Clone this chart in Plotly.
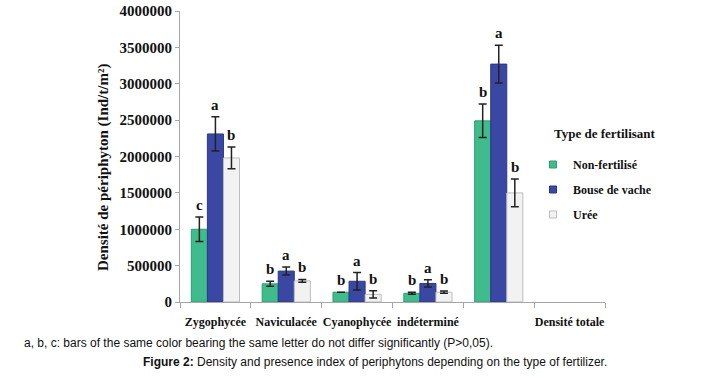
import plotly.graph_objects as go

# ---- data ----
tick_labels = ["Zygophycée", "Naviculacée", "Cyanophycée", "indéterminé", "", "Densité totale"]
group_pos = [0, 1, 2, 3, 4]  # the 5th slot holds the total-density bars
series_names = ["Non-fertilisé", "Bouse de vache", "Urée"]

non_fert = [1000000, 250000, 135000, 120000, 2490000]
non_fert_err = [170000, 35000, 0, 15000, 230000]
bouse = [2310000, 425000, 285000, 255000, 3270000]
bouse_err = [235000, 55000, 120000, 50000, 260000]
uree = [1980000, 290000, 105000, 135000, 1500000]
uree_err = [150000, 20000, 50000, 15000, 190000]

letters_non = ["c", "b", "b", "b", "b"]
letters_bouse = ["a", "a", "a", "a", "a"]
letters_uree = ["b", "b", "b", "b", "b"]

y_ticks = [0, 500000, 1000000, 1500000, 2000000, 2500000, 3000000, 3500000, 4000000]

# ---- styles ----
SERIF = "Liberation Serif"
SANS = "Liberation Sans"
colors = ["#3FBB8C", "#3A47A3", "#F2F2F2"]
edge = ["#2A9F73", "#2B3888", "#BDBDBD"]

L, R, T, B = 180, 114, 11, 76
W, H = 719, 378
pw, ph = W - L - R, H - T - B


def px_x(x):
    return (x - L) / pw


def px_y(y):
    return (H - B - y) / ph


fig = go.Figure()
vals = [non_fert, bouse, uree]
errs = [non_fert_err, bouse_err, uree_err]
lets = [letters_non, letters_bouse, letters_uree]
for i, name in enumerate(series_names):
    fig.add_trace(go.Bar(
        x=group_pos, y=vals[i], name=name, showlegend=False,
        marker=dict(color=colors[i], line=dict(color=edge[i], width=1)),
        error_y=dict(type="data", array=errs[i], visible=True,
                     color="#222222", thickness=1.5, width=4),
        legendgroup=name,
    ))
# legend entries (small square swatches like the original)
for i, name in enumerate(series_names):
    fig.add_trace(go.Scatter(
        x=[None], y=[None], mode="markers", name=name, legendgroup=name,
        marker=dict(symbol="square", size=7, color=colors[i],
                    line=dict(color=edge[i], width=1)),
    ))

bargap = 0.32
bw = (1 - bargap) / 3
annotations = []
for i in range(3):
    off = (i - 1) * bw
    for j, g in enumerate(group_pos):
        annotations.append(dict(
            x=g + off, y=vals[i][j] + errs[i][j], xref="x", yref="y",
            text=lets[i][j], showarrow=False, yanchor="bottom", yshift=2,
            font=dict(family=SERIF, size=15, color="#111111", weight="bold"),
        ))

annotations.append(dict(
    x=px_x(103), y=px_y(168), xref="paper", yref="paper", textangle=-90,
    text="Densité de périphyton (Ind/t/m²)", showarrow=False,
    xanchor="center", yanchor="middle",
    font=dict(family=SERIF, size=15, color="#111111", weight="bold"),
))
annotations.append(dict(
    x=px_x(552), y=px_y(133), xref="paper", yref="paper", showarrow=False,
    text="Type de fertilisant", xanchor="left", yanchor="middle",
    font=dict(family=SERIF, size=13, color="#111111", weight="bold"),
))
annotations.append(dict(
    x=px_x(22), y=px_y(343), xref="paper", yref="paper", showarrow=False,
    text="a, b, c: bars of the same color bearing the same letter do not differ significantly (P>0,05).",
    xanchor="left", yanchor="middle",
    font=dict(family=SANS, size=12, color="#111111"),
))
annotations.append(dict(
    x=px_x(375), y=px_y(362), xref="paper", yref="paper", showarrow=False,
    text="<b>Figure 2:</b> Density and presence index of periphytons depending on the type of fertilizer.",
    xanchor="center", yanchor="middle",
    font=dict(family=SANS, size=12, color="#111111"),
))

fig.update_layout(
    width=W, height=H,
    margin=dict(l=L, r=R, t=T, b=B),
    paper_bgcolor="white", plot_bgcolor="white",
    barmode="group", bargap=bargap, bargroupgap=0,
    annotations=annotations,
    legend=dict(
        x=px_x(533), y=px_y(150), xanchor="left", yanchor="top",
        font=dict(family=SERIF, size=12, color="#111111", weight="bold"),
        tracegroupgap=6, itemwidth=30, bgcolor="rgba(0,0,0,0)",
    ),
    xaxis=dict(
        range=[-0.5, 5.5], tickmode="array", tickvals=list(range(len(tick_labels))),
        ticktext=tick_labels, ticks="", showgrid=False, zeroline=False,
        showline=True, linecolor="#A6A6A6", linewidth=1, ticklabelstandoff=9,
        tickfont=dict(family=SERIF, size=12, color="#111111", weight="bold"),
        minor=dict(tickmode="array", tickvals=[k + 0.5 for k in range(-1, 6)],
                   ticks="outside", ticklen=5, tickcolor="#A6A6A6", showgrid=False),
        automargin=False,
    ),
    yaxis=dict(
        range=[0, 4000000], tickmode="array", tickvals=y_ticks,
        ticktext=[str(v) for v in y_ticks], ticks="outside", ticklen=4,
        tickcolor="#A6A6A6", showgrid=False, zeroline=False,
        showline=True, linecolor="#A6A6A6", linewidth=1,
        tickfont=dict(family=SERIF, size=15, color="#111111", weight="bold"),
        automargin=False,
    ),
)

fig.write_html("out.html", config={"displayModeBar": False},
               post_script="document.body.style.margin='0';")
